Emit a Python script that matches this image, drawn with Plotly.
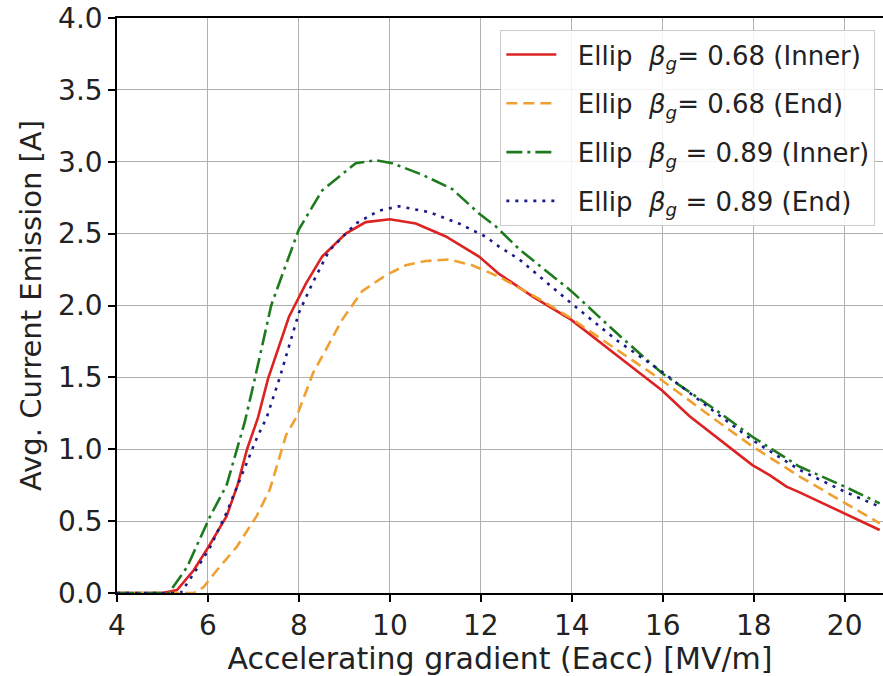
import plotly.graph_objects as go

# ---- data ----
x_068_inner = [4.0, 5.0, 5.32, 5.69, 6.01, 6.41, 6.65, 6.86, 7.1, 7.32, 7.78, 8.15, 8.51, 9.03, 9.47, 10.0,
               10.57, 11.23, 11.96, 12.4, 13.15, 13.99, 14.98, 15.98, 16.59, 17.18, 17.97, 18.35, 18.72,
               19.01, 20.0, 20.77]
y_068_inner = [0, 0, 0.02, 0.16, 0.32, 0.535, 0.75, 1.0, 1.22, 1.49, 1.92, 2.15, 2.34, 2.5, 2.58, 2.60,
               2.57, 2.48, 2.34, 2.22, 2.06, 1.90, 1.656, 1.41, 1.23, 1.087, 0.89, 0.82, 0.74,
               0.70, 0.554, 0.438]

x_068_end = [4.0, 5.0, 5.69, 5.9, 6.2, 6.63, 7.07, 7.36, 7.58, 7.72, 7.94, 8.31, 8.95, 9.39, 9.91, 10.35,
             10.79, 11.3, 11.81, 12.4, 13.37, 13.99, 14.91, 15.98, 17.18, 17.97, 19.01, 20.0, 20.77]
y_068_end = [0, 0, 0, 0.04, 0.16, 0.32, 0.535, 0.72, 0.96, 1.10, 1.22, 1.53, 1.90, 2.10, 2.21, 2.28,
             2.31, 2.32, 2.28, 2.20, 2.03, 1.91, 1.71, 1.48, 1.20, 1.02, 0.81, 0.624, 0.485]

x_089_inner = [4.0, 5.0, 5.14, 5.54, 6.05, 6.41, 6.63, 6.81, 7.03, 7.39, 7.56, 8.0, 8.51, 9.25, 9.69,
               10.05, 10.71, 11.37, 11.96, 12.33, 12.85, 13.99, 14.98, 15.98, 17.18, 17.97, 19.0,
               20.0, 20.77]
y_089_inner = [0, 0, 0.0, 0.18, 0.535, 0.75, 1.0, 1.19, 1.49, 2.0, 2.15, 2.53, 2.80, 2.99, 3.01,
               2.99, 2.91, 2.81, 2.64, 2.55, 2.39, 2.10, 1.81, 1.53, 1.27, 1.087, 0.88,
               0.74, 0.624]

x_089_end = [4.0, 5.0, 5.40, 5.69, 6.05, 6.41, 6.74, 7.07, 7.29, 7.58, 8.0, 8.29, 8.66, 9.25, 9.76,
             10.2, 10.86, 11.52, 12.1, 12.4, 12.85, 13.99, 14.98, 15.98, 17.18, 17.97, 19.01,
             20.0, 20.77]
y_089_end = [0, 0, 0.0, 0.136, 0.32, 0.56, 0.82, 1.075, 1.22, 1.5, 1.95, 2.15, 2.38, 2.57, 2.66,
             2.69, 2.65, 2.57, 2.48, 2.41, 2.32, 2.015, 1.76, 1.54, 1.25, 1.064, 0.856,
             0.705, 0.60]

PAD = "\u00a0\u00a0"
names = [
    PAD + "Ellip  <i>β</i><sub><i>g</i></sub>= 0.68 (Inner)",
    PAD + "Ellip  <i>β</i><sub><i>g</i></sub>= 0.68 (End)",
    PAD + "Ellip  <i>β</i><sub><i>g</i></sub> = 0.89 (Inner)",
    PAD + "Ellip  <i>β</i><sub><i>g</i></sub> = 0.89 (End)",
]

x_ticks = [4, 6, 8, 10, 12, 14, 16, 18, 20]
y_ticks = [0.0, 0.5, 1.0, 1.5, 2.0, 2.5, 3.0, 3.5, 4.0]
y_tick_labels = ["0.0", "0.5", "1.0", "1.5", "2.0", "2.5", "3.0", "3.5", "4.0"]

FONT = "DejaVu Sans"
TXT = "#222222"

fig = go.Figure()
series = [
    (x_068_inner, y_068_inner, names[0], "#dd2222", "solid"),
    (x_068_end, y_068_end, names[1], "#f0a030", "11px,6px"),
    (x_089_inner, y_089_inner, names[2], "#1e7a1e", "16px,5px,3px,5px"),
    (x_089_end, y_089_end, names[3], "#1a1a8a", "3px,6px"),
]
for i, (xs, ys, nm, col, dash) in enumerate(series):
    fig.add_trace(go.Scatter(
        x=xs, y=ys, mode="lines", name=nm, legendgroup=f"g{i}",
        line=dict(color=col, width=2.6, dash=dash),
    ))

fig.update_layout(
    width=883, height=676,
    margin=dict(l=117, r=0, t=18, b=83),
    paper_bgcolor="white", plot_bgcolor="white",
    font=dict(family=FONT, color=TXT),
    showlegend=True,
    legend=dict(
        x=0.99, xanchor="right", y=0.979, yanchor="top",
        bgcolor="rgba(255,255,255,0.85)", bordercolor="#cccccc", borderwidth=1,
        font=dict(family=FONT, size=26, color=TXT),
        itemwidth=50, tracegroupgap=12,
    ),
)
fig.update_xaxes(
    range=[4, 4 + 766 / 45.48], tickmode="array", tickvals=x_ticks,
    ticks="outside", ticklen=7, tickwidth=1.5, tickcolor="black",
    showline=True, linecolor="black", linewidth=1.5, mirror=True,
    showgrid=True, gridcolor="#b0b0b0", gridwidth=1.2, zeroline=False,
    tickfont=dict(family=FONT, size=28, color=TXT),
    title=dict(text="Accelerating gradient (Eacc) [MV/m]", font=dict(family=FONT, size=30, color=TXT), standoff=4),
)
fig.update_yaxes(
    range=[0, 4], tickmode="array", tickvals=y_ticks, ticktext=y_tick_labels,
    ticks="outside", ticklen=7, tickwidth=1.5, tickcolor="black",
    showline=True, linecolor="black", linewidth=1.5, mirror=False,
    showgrid=True, gridcolor="#b0b0b0", gridwidth=1.2, zeroline=False,
    tickfont=dict(family=FONT, size=28, color=TXT),
    title=dict(text="Avg. Current Emission [A]", font=dict(family=FONT, size=29, color=TXT), standoff=8),
)

fig.write_html("out.html")
